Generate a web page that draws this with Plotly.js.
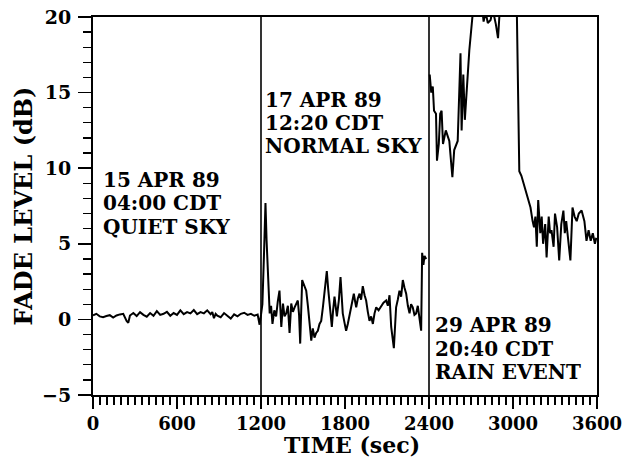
<!DOCTYPE html>
<html>
<head>
<meta charset="utf-8">
<script src="https://cdn.plot.ly/plotly-3.0.1.min.js"></script>
<style>
  html, body { margin: 0; padding: 0; background: #fff; }
  #chart { width: 624px; height: 459px; }
</style>
</head>
<body>
<div id="chart"></div>
<script>
// ---- Data ----
// Segment 1: 15 APR 89, quiet sky (time in s, fade in dB)
const seg1Time = [0, 24, 48, 72, 96, 120, 144, 168, 192, 216, 240, 252, 264, 288, 312, 336, 360, 384, 408, 432,
  456, 480, 504, 528, 552, 576, 600, 624, 648, 672, 696, 720, 744, 768, 792, 816, 840, 852, 864, 876,
  888, 912, 936, 960, 984, 1008, 1032, 1056, 1080, 1104, 1128, 1152, 1176, 1190, 1200];
const seg1Fade = [0.26, 0.37, 0.2, 0.15, 0.22, 0.28, 0.12, 0.26, 0.33, 0.37, -0.1, -0.22, 0.26, 0.42, 0.22, 0.48, 0.3, 0.18, 0.42, 0.24,
  0.55, 0.3, 0.37, 0.5, 0.24, 0.42, 0.3, 0.6, 0.35, 0.48, 0.4, 0.62, 0.35, 0.48, 0.4, 0.6, 0.35, 0.48, 0.08, 0.37,
  0.24, 0.14, 0.42, 0.26, 0.05, 0.33, 0.2, 0.37, 0.44, 0.3, 0.37, 0.24, 0.32, -0.35, 0.3];

// Segment 2: 17 APR 89, normal sky
const seg2Time = [1200, 1210, 1222, 1232, 1240, 1246, 1254, 1262, 1272, 1282, 1295, 1308, 1320, 1332, 1345, 1357, 1368, 1380, 1392, 1404,
  1416, 1428, 1440, 1452, 1463, 1472, 1480, 1494, 1508, 1523, 1535, 1547, 1559, 1570, 1582, 1594, 1606, 1618, 1630, 1642,
  1654, 1670, 1680, 1689, 1698, 1706, 1715, 1725, 1742, 1756, 1768, 1776, 1784, 1796, 1808, 1820, 1832, 1848, 1863, 1872,
  1880, 1892, 1904, 1915, 1927, 1940, 1951, 1963, 1975, 1987, 1999, 2011, 2023, 2040, 2058, 2075, 2094, 2106, 2118, 2130,
  2149, 2165, 2177, 2189, 2201, 2213, 2225, 2237, 2249, 2261, 2272, 2284, 2296, 2308, 2320, 2332, 2344, 2351, 2360, 2368, 2380];
const seg2Fade = [0.3, 1.0, 4.5, 7.7, 5.2, 3.5, 1.6, 0.4, 0.9, -0.3, 0.6, 0.2, 1.2, 1.9, -0.5, 1.05, 0.2, 0.4, 0.9, -0.9,
  1.05, 0.5, 0.8, 1.1, 1.25, 0.3, -1.6, 2.6, 2.2, 1.9, 0.9, -0.1, -1.4, -0.6, -1.2, -0.9, -0.75, -0.3, -0.1, 0.8,
  1.9, 3.2, 2.0, 1.05, 0.3, -0.5, 0.6, 1.5, 0.2, 1.25, 2.8, 1.2, 0.4, -0.2, -0.75, -0.3, 0.2, 1.0, 1.7, 1.2,
  0.8, 1.4, 1.7, 1.3, 2.2, 1.6, 1.25, 0.5, -0.1, 0.2, -0.3, 0.4, 0.8, 0.6, 0.9, 1.1, 1.25, 0.9, 1.6, -0.5,
  -1.9, 0.8, 1.3, 1.9, 1.5, 2.6, 2.1, 1.7, 0.9, 0.4, 1.0, 0.8, 0.3, 0.4, 0.9, 0.2, -0.75, 4.4, 3.6, 4.2, 4.0];

// Segment 3: 29 APR 89, rain event
const seg3Time = [2405, 2416, 2427, 2436, 2450, 2457, 2470, 2480, 2490, 2500, 2520, 2545, 2567, 2580, 2605, 2617, 2625, 2633, 2645, 2656,
  2670, 2688, 2713, 2740, 2770, 2790, 2805, 2820, 2840, 2855, 2878, 2893, 2905, 2930, 2970, 3010, 3028, 3036, 3045, 3060,
  3075, 3090, 3110, 3125, 3140, 3150, 3160, 3170, 3180, 3195, 3205, 3215, 3230, 3240, 3255, 3265, 3275, 3290, 3300, 3315,
  3330, 3345, 3360, 3370, 3380, 3395, 3410, 3425, 3440, 3455, 3470, 3490, 3510, 3525, 3540, 3555, 3570, 3585, 3595];
const seg3Fade = [16.2, 15.0, 15.4, 13.8, 13.6, 10.5, 11.6, 13.6, 13.8, 11.6, 12.5, 11.8, 9.4, 11.2, 11.8, 15.4, 17.6, 12.5, 16.2, 13.2,
  15.6, 17.8, 20.3, 22.5, 21.5, 19.7, 20.3, 19.6, 19.8, 20.5, 19.5, 18.6, 20.4, 22.0, 23.0, 21.5, 20.0, 15.5, 9.8, 9.5,
  9.0, 8.6, 8.0, 7.4, 6.5, 6.1, 6.8, 4.8, 7.9, 5.7, 6.8, 5.0, 6.3, 4.1, 6.8, 5.7, 5.9, 4.8, 7.0, 6.1,
  3.9, 6.3, 7.2, 5.7, 6.5, 5.2, 3.9, 7.4, 6.8, 6.5, 7.0, 7.2, 6.5, 5.2, 5.9, 5.2, 5.7, 5.0, 5.4];

// Segment dividers (s) and segment labels
const dividers = [1200, 2400];
const labelQuiet = ["15 APR 89", "04:00 CDT", "QUIET SKY"];
const labelNormal = ["17 APR 89", "12:20 CDT", "NORMAL SKY"];
const labelRain = ["29 APR 89", "20:40 CDT", "RAIN EVENT"];
const xTitle = "TIME (sec)";
const yTitle = "FADE LEVEL (dB)";

// ---- Chart ----
const FONT = "DejaVu Serif";
const lineStyle = { color: "#000", width: 2 };

const traces = [
  { x: seg1Time, y: seg1Fade, mode: "lines", line: lineStyle, hoverinfo: "skip" },
  { x: seg2Time, y: seg2Fade, mode: "lines", line: lineStyle, hoverinfo: "skip" },
  { x: seg3Time, y: seg3Fade, mode: "lines", line: lineStyle, hoverinfo: "skip" }
];

function labelBlock(lines, x, ys) {
  return lines.map((t, i) => ({
    text: t, x: x, y: ys[i], xref: "x", yref: "y",
    xanchor: "left", yanchor: "middle", showarrow: false, borderpad: 0,
    font: { family: FONT, size: 20, color: "#000", weight: "bold" }
  }));
}

const annotations = [].concat(
  labelBlock(labelQuiet, 64, [9.25, 7.67, 6.11]),
  labelBlock(labelNormal, 1222, [14.54, 12.99, 11.44]),
  labelBlock(labelRain, 2436, [-0.40, -1.96, -3.51]),
  [{
    // x-axis title, placed just under the tick labels
    text: xTitle, xref: "paper", yref: "paper", x: 0.513, y: -0.1693,
    xanchor: "center", yanchor: "bottom", showarrow: false, borderpad: 0,
    font: { family: FONT, size: 22, color: "#000", weight: "bold" }
  }]
);

const shapes = dividers.map(d => ({
  type: "line", xref: "x", yref: "paper", x0: d, x1: d, y0: 0, y1: 1,
  line: { color: "#000", width: 1.6 }
}));

const layout = {
  width: 624, height: 459,
  margin: { l: 93, r: 27, t: 17, b: 64, pad: 0 },
  paper_bgcolor: "#fff", plot_bgcolor: "#fff",
  showlegend: false,
  font: { family: FONT, color: "#000", weight: "bold" },
  xaxis: {
    range: [0, 3600], dtick: 600, tick0: 0,
    showline: true, linecolor: "#000", linewidth: 2, mirror: true,
    ticks: "outside", ticklen: 12, tickwidth: 1.6, tickcolor: "#000",
    minor: { dtick: 50, ticks: "outside", ticklen: 8, tickwidth: 1.3, tickcolor: "#000", showgrid: false },
    showgrid: false, zeroline: false,
    tickfont: { family: FONT, size: 18, color: "#000", weight: "bold" },
    ticklabelstandoff: -1
  },
  yaxis: {
    range: [-5, 20], dtick: 5, tick0: 0,
    showline: true, linecolor: "#000", linewidth: 2, mirror: true,
    ticks: "outside", ticklen: 13, tickwidth: 1.6, tickcolor: "#000",
    minor: { dtick: 1, ticks: "outside", ticklen: 8, tickwidth: 1.3, tickcolor: "#000", showgrid: false },
    showgrid: false, zeroline: false,
    tickfont: { family: FONT, size: 19, color: "#000", weight: "bold" },
    ticklabelstandoff: 3,
    title: { text: yTitle, font: { family: FONT, size: 24, color: "#000", weight: "bold" }, standoff: 3 }
  },
  annotations: annotations,
  shapes: shapes
};

Plotly.newPlot("chart", traces, layout, { staticPlot: true, displayModeBar: false });
</script>
</body>
</html>
